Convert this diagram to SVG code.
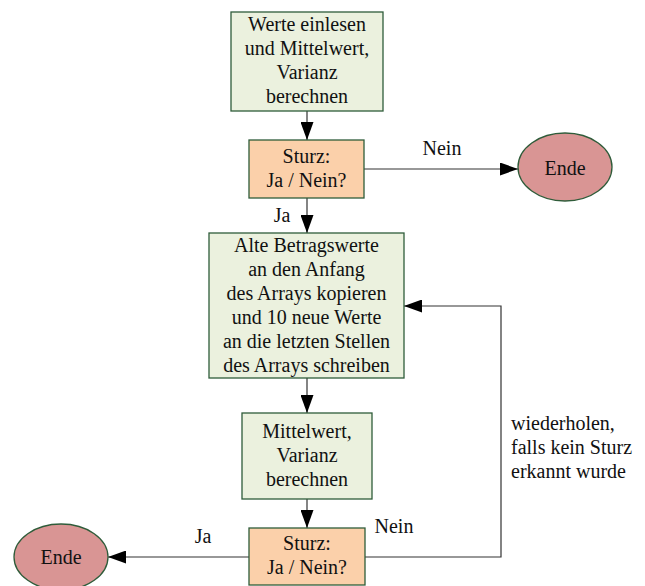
<svg xmlns="http://www.w3.org/2000/svg" width="645" height="586" viewBox="0 0 645 586">
  <style>
    text { font-family: "Liberation Serif", "Times New Roman", serif; font-size: 20px; fill: #111; }
    .c { text-anchor: middle; }
    .proc { fill: #EBF1DE; stroke: #2F5C3A; stroke-width: 1.3; }
    .dec { fill: #FBD0AA; stroke: #2F5C3A; stroke-width: 1.3; }
    .end { fill: #D99594; stroke: #2F5C3A; stroke-width: 1.3; }
    .conn { fill: none; stroke: #333; stroke-width: 1.2; }
  </style>
  <defs>
    <marker id="arr" markerUnits="userSpaceOnUse" markerWidth="19" markerHeight="13" refX="18" refY="6.5" orient="auto">
      <path d="M0,0 L18,6.5 L0,13 z" fill="#000"/>
    </marker>
  </defs>

  <g id="connectors">
    <line class="conn" x1="307" y1="111" x2="307" y2="140" marker-end="url(#arr)"/>
    <line class="conn" x1="364" y1="169" x2="518" y2="169" marker-end="url(#arr)"/>
    <line class="conn" x1="307" y1="198" x2="307" y2="233" marker-end="url(#arr)"/>
    <line class="conn" x1="307" y1="378" x2="307" y2="413" marker-end="url(#arr)"/>
    <line class="conn" x1="307" y1="499" x2="307" y2="528" marker-end="url(#arr)"/>
    <line class="conn" x1="249" y1="557" x2="108" y2="557" marker-end="url(#arr)"/>
    <polyline class="conn" points="365,557 501,557 501,306 404,306" marker-end="url(#arr)"/>
    <text class="c" x="442" y="155">Nein</text>
    <text class="c" x="282" y="222">Ja</text>
    <text class="c" x="203" y="543">Ja</text>
    <text class="c" x="394" y="533">Nein</text>
    <text x="511" y="430">wiederholen,</text>
    <text x="511" y="454">falls kein Sturz</text>
    <text x="511" y="478">erkannt wurde</text>
  </g>

  <g id="einlesen">
    <rect class="proc" x="231" y="12" width="152" height="99"/>
    <text class="c" x="307" y="31">Werte einlesen</text>
    <text class="c" x="307" y="55">und Mittelwert,</text>
    <text class="c" x="307" y="79">Varianz</text>
    <text class="c" x="307" y="103">berechnen</text>
  </g>

  <g id="sturz1">
    <rect class="dec" x="249" y="140" width="115" height="58"/>
    <text class="c" x="306.5" y="163">Sturz:</text>
    <text class="c" x="306.5" y="187">Ja / Nein?</text>
  </g>

  <g id="ende1">
    <ellipse class="end" cx="565" cy="167" rx="47" ry="34"/>
    <text class="c" x="565" y="175">Ende</text>
  </g>

  <g id="kopieren">
    <rect class="proc" x="209" y="233" width="195" height="145"/>
    <text class="c" x="306.5" y="252">Alte Betragswerte</text>
    <text class="c" x="306.5" y="276">an den Anfang</text>
    <text class="c" x="306.5" y="300">des Arrays kopieren</text>
    <text class="c" x="306.5" y="324">und 10 neue Werte</text>
    <text class="c" x="306.5" y="348">an die letzten Stellen</text>
    <text class="c" x="306.5" y="372">des Arrays schreiben</text>
  </g>

  <g id="berechnen">
    <rect class="proc" x="242" y="413" width="130" height="86"/>
    <text class="c" x="307" y="438">Mittelwert,</text>
    <text class="c" x="307" y="462">Varianz</text>
    <text class="c" x="307" y="486">berechnen</text>
  </g>

  <g id="sturz2">
    <rect class="dec" x="249" y="528" width="116" height="57"/>
    <text class="c" x="307" y="550">Sturz:</text>
    <text class="c" x="307" y="574">Ja / Nein?</text>
  </g>

  <g id="ende2">
    <ellipse class="end" cx="61" cy="557" rx="47" ry="33"/>
    <text class="c" x="61" y="564">Ende</text>
  </g>
</svg>
